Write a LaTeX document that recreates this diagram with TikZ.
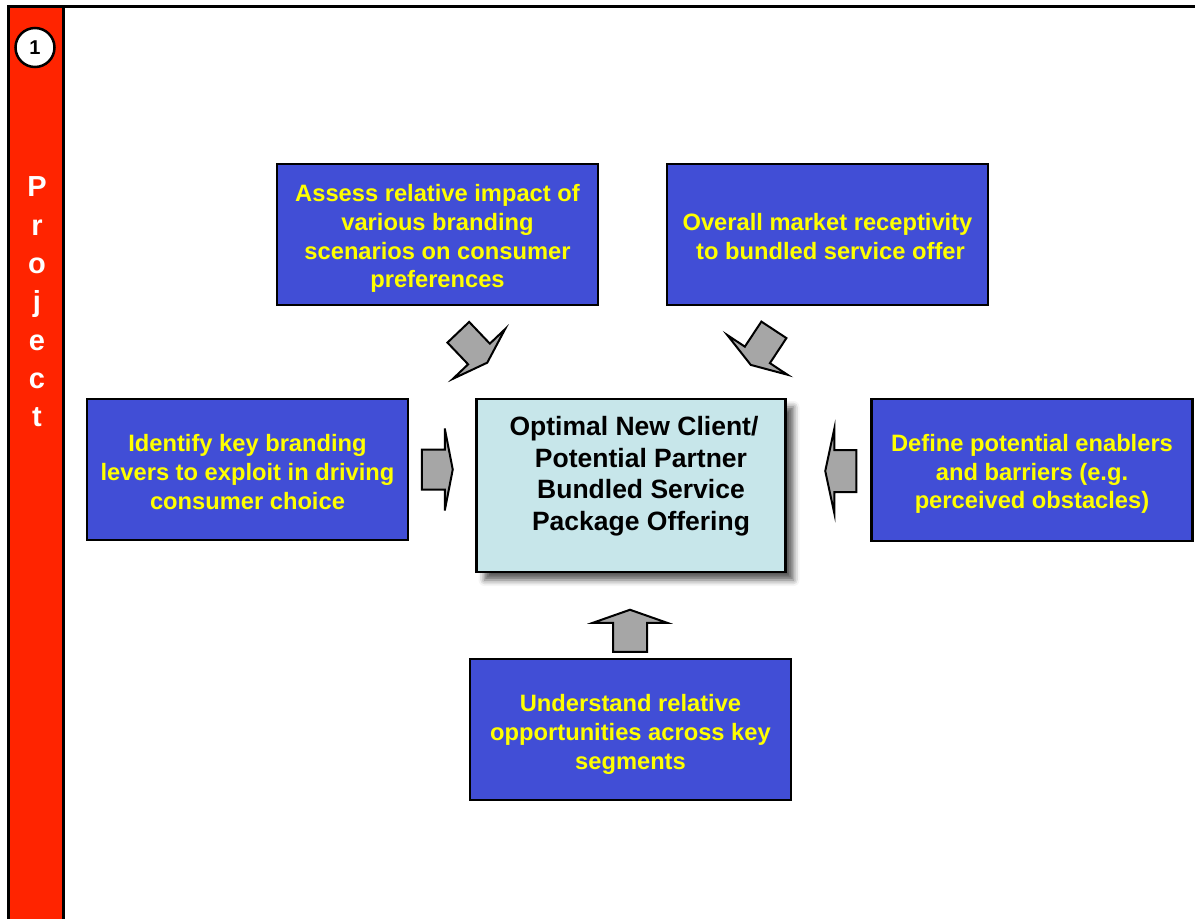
\documentclass[tikz,border=0pt]{standalone}
\usepackage{fontspec}
\setmainfont{Liberation Sans}
\usetikzlibrary{calc,shadows.blur}
\definecolor{boxblue}{RGB}{65,78,214}
\definecolor{txtyellow}{RGB}{255,255,0}
\definecolor{barred}{RGB}{255,36,0}
\definecolor{centerfill}{RGB}{199,230,234}
\definecolor{arrowgray}{RGB}{166,166,166}
\newcommand\garrow[6]{%
  \begin{scope}[shift={#1}, x={(#2:1pt)}, y={(#2+90:1pt)}]
    \draw[arrowshape] (0,-#4) -- (#3,-#4) -- (#3,-#5) -- (#3+#6,0) -- (#3,#5) -- (#3,#4) -- (0,#4) -- cycle;
  \end{scope}}
\tikzset{
  bluebox/.style={draw=black, line width=2.5pt, fill=boxblue,
    minimum width=321pt, minimum height=141pt, inner sep=0pt},
  bluetext/.style={text=txtyellow, font=\fontsize{23.7}{28.8}\selectfont\bfseries,
    align=center, inner sep=0pt},
  centerbox/.style={draw=black, line width=2.5pt, fill=centerfill,
    minimum width=309pt, minimum height=173pt, inner sep=0pt,
    blur shadow={shadow xshift=8pt, shadow yshift=-8pt, shadow blur radius=6pt, shadow opacity=65}},
  centertext/.style={text=black, font=\fontsize{26.5}{31.5}\selectfont\bfseries, align=center, inner sep=0pt},
  arrowshape/.style={draw=black, line width=2pt, fill=arrowgray, line join=miter},
}
\begin{document}
\begin{tikzpicture}[x=1pt,y=-1pt]
\useasboundingbox (0,0) rectangle (1195,919);
\clip (0,0) rectangle (1195,919);
% frame and side bar
\draw[line width=2.8pt, fill=barred] (8.7,6.5) rectangle (63.5,935);
\draw[line width=2.8pt] (7.3,6.5) -- (1200,6.5);
\node[circle, draw=black, line width=2.5pt, fill=white, minimum size=39pt, inner sep=0pt,
  font=\fontsize{20}{24}\selectfont\bfseries] (num) at (35,47.5) {1};
\node[text=white, font=\fontsize{29}{38.3}\selectfont\bfseries, align=center, inner sep=0pt]
  (proj) at (37,302) {P\\r\\o\\j\\e\\c\\t};
% boxes
\node[bluebox] (tl) at (437.5,234.5) {};
\node[bluetext] (tlt) at ($(tl.center)+(0,4)$) {Assess relative impact of\\various branding\\scenarios on consumer\\preferences};
\node[bluebox] (tr) at (827.5,234.5) {};
\node[bluetext] (trt) at ($(tr.center)+(0,2)$) {Overall market receptivity\\\hspace*{6pt}to bundled service offer};
\node[bluebox] (l) at (247.5,469.5) {};
\node[bluetext] (lt) at ($(l.center)+(0,2.5)$) {Identify key branding\\levers to exploit in driving\\consumer choice};
\node[bluebox, minimum height=142pt] (r) at (1032,470) {};
\node[bluetext] (rt) at ($(r.center)+(0,4)$) {Define potential enablers\\and barriers (e.g.\\perceived obstacles)};
\node[bluebox] (b) at (630.5,729.5) {};
\node[bluetext] (bt) at ($(b.center)+(0,5)$) {Understand relative\\opportunities across key\\segments};
\node[centerbox] (c) at (631,485.5) {};
\node[centertext] (ct) at (634,476) {Optimal New Client/\\\hspace*{14pt}Potential Partner\\\hspace*{14pt}Bundled Service\\\hspace*{14pt}Package Offering};
% block arrows
\garrow{($(l.east)+(12.5,0)$)}{0}{23}{20}{41}{8}
\garrow{($(r.west)+(-14,1)$)}{180}{22}{21}{42}{9}
\garrow{($(b.north)+(-0.5,-6)$)}{90}{29}{17}{37}{13}
\garrow{($(tl.south)+(20.8,26)$)}{-46.4}{30}{15}{36}{12}
\garrow{($(tr.south)+(-53.6,23.6)$)}{-123.4}{30}{15}{36}{12}
\end{tikzpicture}
\end{document}
